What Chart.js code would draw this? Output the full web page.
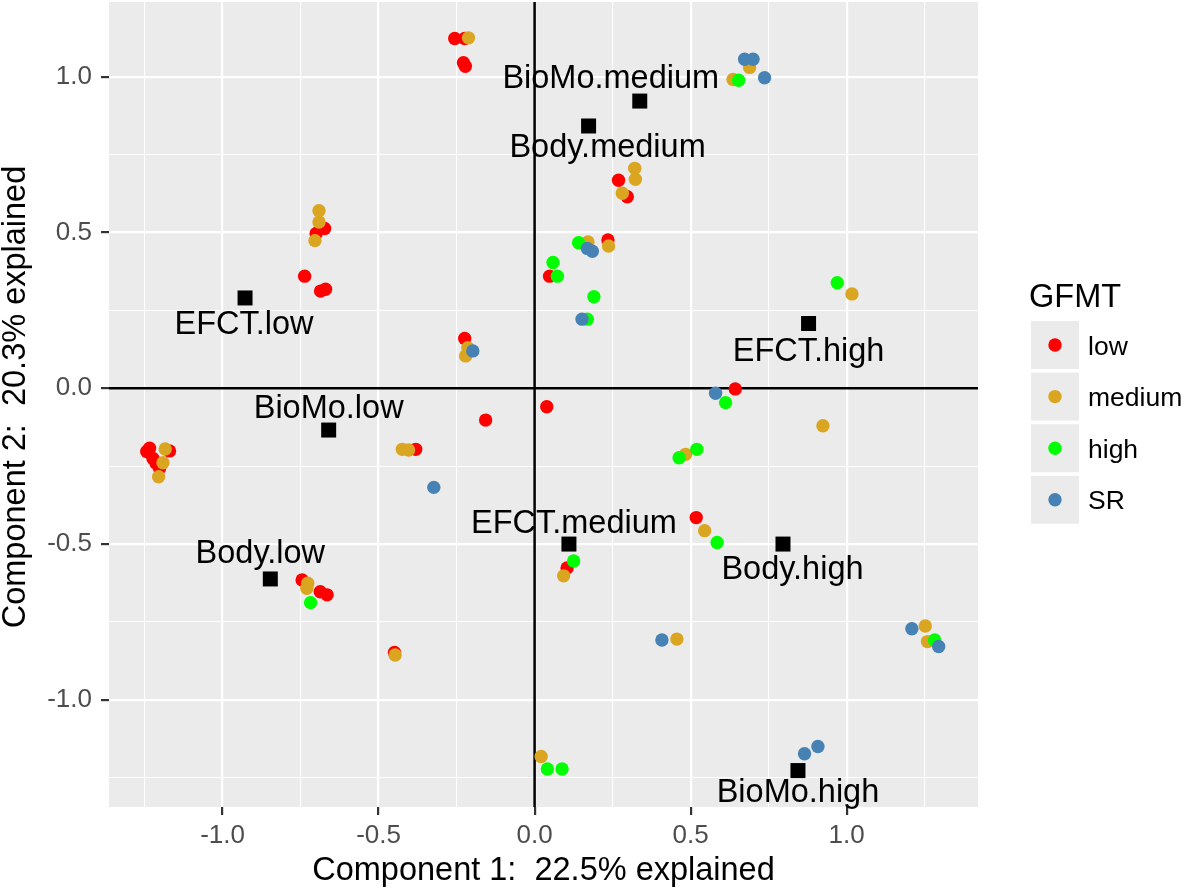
<!DOCTYPE html>
<html><head><meta charset="utf-8">
<script src="https://cdn.jsdelivr.net/npm/chart.js@4.4.0/dist/chart.umd.min.js"></script>
<style>html,body{margin:0;padding:0;background:#fff;}canvas{display:block;}</style>
</head><body>
<canvas id="c" width="1181" height="890"></canvas>
<script>
// ---- data ----
const xTickValues = [-1.0, -0.5, 0.0, 0.5, 1.0];
const xTickLabels = ["-1.0", "-0.5", "0.0", "0.5", "1.0"];
const yTickValues = [-1.0, -0.5, 0.0, 0.5, 1.0];
const yTickLabels = ["-1.0", "-0.5", "0.0", "0.5", "1.0"];
const xMinorValues = [-1.25, -0.75, -0.25, 0.25, 0.75, 1.25];
const yMinorValues = [-1.25, -0.75, -0.25, 0.25, 0.75];
const xRange = [-1.364, 1.421];
const yRange = [-1.344, 1.240];

const groupNames = ["low", "medium", "high", "SR"];

const lowX = [-0.256, -0.224, -0.228, -0.222, -0.700, -0.673, -0.737, -0.686, -0.670, 0.269, 0.297, 0.235, 0.048, -0.224, 0.643, 0.039, -0.157, -0.381, 0.518, 0.104, -1.234, -1.243, -1.223, -1.213, -1.170, -1.202, -0.745, -0.687, -0.665, -0.449];
const lowY = [1.123, 1.123, 1.045, 1.034, 0.497, 0.513, 0.360, 0.312, 0.318, 0.668, 0.615, 0.476, 0.360, 0.160, -0.002, -0.059, -0.102, -0.196, -0.415, -0.577, -0.192, -0.203, -0.225, -0.241, -0.201, -0.257, -0.615, -0.653, -0.663, -0.848];

const mediumX = [-0.212, 0.689, 0.636, -0.691, -0.691, -0.704, 0.321, 0.323, 0.281, 0.171, 0.237, 1.017, -0.214, -0.221, -0.424, -0.404, 0.924, 0.484, 0.545, 0.093, -1.184, -1.191, -1.205, -0.727, -0.730, -0.447, 0.456, 0.021, 1.252, 1.259];
const mediumY = [1.125, 1.030, 0.991, 0.570, 0.534, 0.474, 0.706, 0.671, 0.626, 0.470, 0.457, 0.303, 0.130, 0.104, -0.196, -0.198, -0.120, -0.212, -0.457, -0.602, -0.195, -0.239, -0.284, -0.626, -0.642, -0.856, -0.805, -1.182, -0.763, -0.813];

const highX = [0.654, 0.141, 0.059, 0.073, 0.190, 0.169, 0.970, 0.612, 0.463, 0.520, 0.585, 0.125, -0.718, 0.041, 0.088, 1.282];
const highY = [0.989, 0.467, 0.404, 0.360, 0.294, 0.222, 0.339, -0.046, -0.223, -0.196, -0.495, -0.554, -0.688, -1.222, -1.222, -0.808];

const srX = [0.673, 0.700, 0.737, 0.169, 0.185, 0.152, -0.198, 0.580, -0.323, 0.408, 0.865, 0.908, 1.209, 1.295];
const srY = [1.056, 1.056, 0.997, 0.449, 0.440, 0.222, 0.120, -0.016, -0.318, -0.808, -1.173, -1.150, -0.772, -0.829];

const centroidNames = ["BioMo.medium", "Body.medium", "EFCT.low", "EFCT.high", "BioMo.low", "EFCT.medium", "Body.high", "Body.low", "BioMo.high"];
const centroidX = [0.337, 0.173, -0.928, 0.878, -0.660, 0.110, 0.796, -0.847, 0.844];
const centroidY = [0.922, 0.842, 0.290, 0.208, -0.134, -0.500, -0.500, -0.612, -1.227];

const xTitle = "Component 1:  22.5% explained";
const yTitle = "Component 2:  20.3% explained";
const legendTitle = "GFMT";

// ---- styles ----
const FONT = '"Liberation Sans", Arial, Helvetica, sans-serif';
const groupColors = ["#FF0000", "#DAA520", "#00FF00", "#4682B4"];
// label offsets in pixels (text centre x, baseline y) relative to each square
const labelOffsets = [[-29, -13], [19, 31], [-1, 36], [0, 37], [0, -12], [5, -11], [9.5, 35], [-10, -16], [0, 31]];

const series = [[lowX, lowY], [mediumX, mediumY], [highX, highY], [srX, srY]];
const datasets = series.map((s, g) => ({
  label: groupNames[g],
  data: s[0].map((x, i) => ({x: x, y: s[1][i]})),
  backgroundColor: groupColors[g],
  borderWidth: 0,
  pointRadius: 6.7,
  pointHoverRadius: 6.7,
  order: 4 - g
}));
datasets.push({
  label: "centroids",
  data: centroidX.map((x, i) => ({x: x, y: centroidY[i]})),
  backgroundColor: "#000000",
  borderWidth: 0,
  pointStyle: "rect",
  pointRadius: 10.6,
  pointHoverRadius: 10.6,
  order: 0
});

const isIn = (arr, v) => arr.some(a => Math.abs(a - v) < 1e-9);

const ggPlugin = {
  id: "gg",
  beforeDraw(chart) {
    const {ctx, chartArea: a} = chart;
    ctx.save();
    ctx.fillStyle = "#EBEBEB";
    ctx.fillRect(a.left, a.top, a.right - a.left, a.bottom - a.top);
    ctx.restore();
  },
  beforeDatasetsDraw(chart) {
    const {ctx, chartArea: a, scales} = chart;
    const x0 = scales.x.getPixelForValue(0);
    const y0 = scales.y.getPixelForValue(0);
    ctx.save();
    ctx.strokeStyle = "#000000";
    ctx.lineWidth = 2.5;
    ctx.beginPath();
    ctx.moveTo(a.left, y0); ctx.lineTo(a.right, y0);
    ctx.moveTo(x0, a.top); ctx.lineTo(x0, a.bottom);
    ctx.stroke();
    ctx.restore();
  },
  afterDatasetsDraw(chart) {
    const {ctx, scales} = chart;
    ctx.save();
    ctx.fillStyle = "#000000";
    ctx.font = "32.5px " + FONT;
    ctx.textAlign = "center";
    ctx.textBaseline = "alphabetic";
    centroidNames.forEach((n, i) => {
      const px = scales.x.getPixelForValue(centroidX[i]);
      const py = scales.y.getPixelForValue(centroidY[i]);
      ctx.fillText(n, px + labelOffsets[i][0], py + labelOffsets[i][1]);
    });
    ctx.restore();
  },
  afterDraw(chart) {
    const {ctx, chartArea: a} = chart;
    ctx.save();
    ctx.fillStyle = "#000000";
    ctx.font = "32.5px " + FONT;
    ctx.textAlign = "center";
    ctx.textBaseline = "alphabetic";
    ctx.fillText(xTitle, (a.left + a.right) / 2, 880);
    ctx.save();
    ctx.translate(25, 397);
    ctx.rotate(-Math.PI / 2);
    ctx.fillText(yTitle, 0, 0);
    ctx.restore();
    // legend
    ctx.textAlign = "left";
    ctx.fillText(legendTitle, 1029, 306.5);
    const boxX = 1031, boxY0 = 321, step = 51.6, box = 48;
    groupNames.forEach((n, i) => {
      const y = boxY0 + i * step;
      ctx.fillStyle = "#EBEBEB";
      ctx.fillRect(boxX, y, box, box);
      ctx.fillStyle = groupColors[i];
      ctx.beginPath();
      ctx.arc(boxX + box / 2, y + box / 2, 6.7, 0, Math.PI * 2);
      ctx.fill();
      ctx.fillStyle = "#000000";
      ctx.font = "26.5px " + FONT;
      ctx.fillText(n, 1088, y + box / 2 + 9.5);
    });
    ctx.restore();
  }
};

function axisCfg(majors, labels, minors, range, isX) {
  return {
    type: "linear",
    min: range[0],
    max: range[1],
    afterBuildTicks(s) {
      s.ticks = majors.concat(minors).sort((p, q) => p - q).map(v => ({value: v}));
    },
    afterFit(s) {
      if (isX) s.height = 83; else s.width = 109;
      s.paddingTop = 0; s.paddingBottom = 0; s.paddingLeft = 0; s.paddingRight = 0;
    },
    border: {display: false},
    grid: {
      color: "#FFFFFF",
      lineWidth: c => (c.tick && isIn(majors, c.tick.value)) ? 2.2 : 1.1,
      drawTicks: true,
      tickLength: 8,
      tickWidth: 2.2,
      tickColor: c => (c.tick && isIn(majors, c.tick.value)) ? "#333333" : "rgba(0,0,0,0)"
    },
    ticks: {
      autoSkip: false,
      maxRotation: 0,
      minRotation: 0,
      color: "#4D4D4D",
      font: {family: FONT, size: 26},
      padding: isX ? 5 : 9,
      callback: v => {
        const i = majors.findIndex(m => Math.abs(m - v) < 1e-9);
        return i >= 0 ? labels[i] : "";
      }
    }
  };
}

new Chart(document.getElementById("c"), {
  type: "scatter",
  data: {datasets: datasets},
  options: {
    responsive: false,
    devicePixelRatio: 1,
    animation: false,
    events: [],
    layout: {autoPadding: false, padding: {left: 0, top: 2, right: 203, bottom: 0}},
    plugins: {legend: {display: false}, tooltip: {enabled: false}},
    scales: {
      x: axisCfg(xTickValues, xTickLabels, xMinorValues, xRange, true),
      y: axisCfg(yTickValues, yTickLabels, yMinorValues, yRange, false)
    }
  },
  plugins: [ggPlugin]
});
</script>
</body></html>
